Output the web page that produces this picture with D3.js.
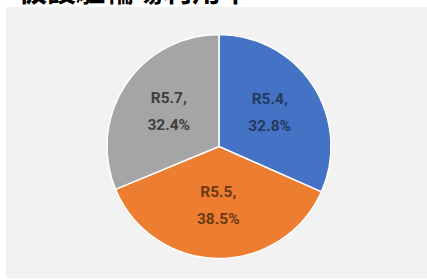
<!DOCTYPE html>
<html>
<head>
<meta charset="utf-8">
<script src="https://cdn.jsdelivr.net/npm/d3@7"></script>
<style>
  body { margin: 0; background: #fff; }
  svg { display: block; }
</style>
</head>
<body>
<div id="chart"></div>
<script>
  // slice data, clockwise from 12 o'clock
  const categories = ['R5.4', 'R5.5', 'R5.7'];
  const percents = [32.8, 38.5, 32.4];
  const sliceColors = ['#4472c4', '#ed7d31', '#a5a5a5'];
  const labelColors = ['#23395f', '#6e3a12', '#3f3f3f'];
  const title = '仮設駐輪場利用率';

  const width = 427, height = 280;
  const cx = 219, cy = 146.5, r = 112;

  const svg = d3.select('#chart')
    .append('svg')
    .attr('width', width)
    .attr('height', height);

  // chart area background
  svg.append('rect')
    .attr('x', 6)
    .attr('y', 7)
    .attr('width', width - 6)
    .attr('height', 271)
    .attr('fill', '#f2f2f2');

  // title, mostly cut off at the top (as in the source image)
  svg.append('text')
    .attr('x', 18)
    .attr('y', 2)
    .attr('font-family', '"Noto Sans CJK JP"')
    .attr('font-weight', 'bold')
    .attr('font-size', 29)
    .attr('fill', '#000')
    .text(title);

  const data = categories.map((c, i) => ({ name: c, value: percents[i], i }));

  const pie = d3.pie()
    .sort(null)
    .value(d => d.value);

  const arc = d3.arc().innerRadius(0).outerRadius(r);
  const labelArc = d3.arc().innerRadius(r * 0.54).outerRadius(r * 0.54);

  const g = svg.append('g').attr('transform', `translate(${cx},${cy})`);

  const arcs = pie(data);

  g.selectAll('path')
    .data(arcs)
    .enter()
    .append('path')
    .attr('d', arc)
    .attr('fill', d => sliceColors[d.data.i])
    .attr('stroke', '#fff')
    .attr('stroke-width', 1.5);

  const labels = g.selectAll('text')
    .data(arcs)
    .enter()
    .append('text')
    .attr('transform', d => `translate(${labelArc.centroid(d)})`)
    .attr('text-anchor', 'middle')
    .attr('font-family', 'Roboto, "Noto Sans", sans-serif')
    .attr('font-size', 15.5)
    .attr('font-weight', 'bold')
    .attr('fill', d => labelColors[d.data.i]);

  labels.append('tspan')
    .attr('x', 0)
    .attr('y', -10)
    .text(d => d.data.name + ',');

  labels.append('tspan')
    .attr('x', 0)
    .attr('y', 17.5)
    .text(d => d.data.value.toFixed(1) + '%');
</script>
</body>
</html>
